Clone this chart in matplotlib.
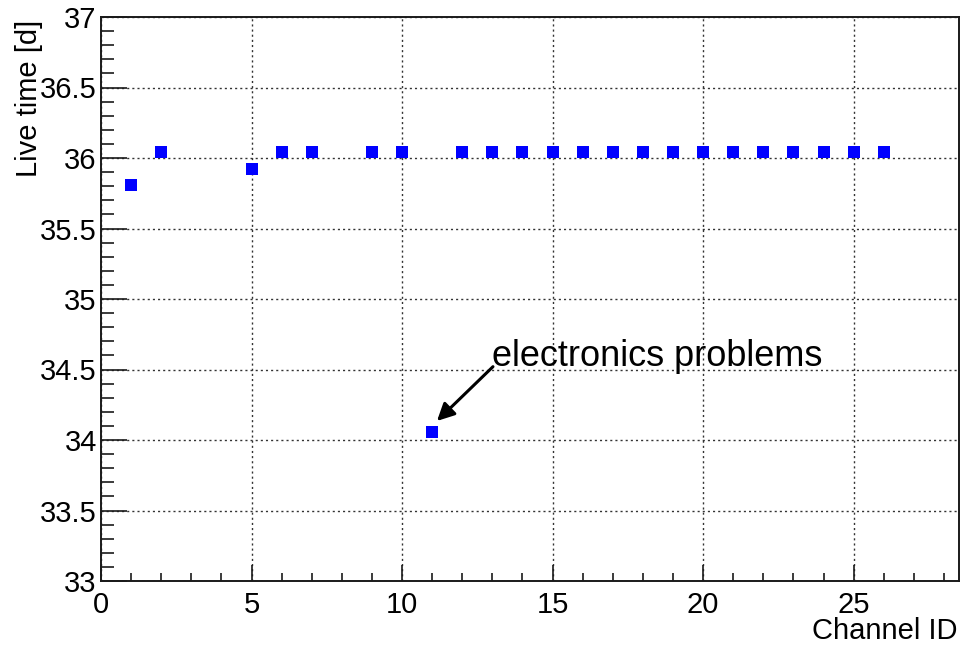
import matplotlib
matplotlib.use("Agg")
import matplotlib.pyplot as plt
from matplotlib.ticker import MultipleLocator, FuncFormatter

plt.rcParams['font.family'] = ['Liberation Sans', 'DejaVu Sans']

# Live time per detector channel
channels = [1, 2, 5, 6, 7, 9, 10, 11, 12, 13, 14, 15, 16, 17, 18, 19, 20,
            21, 22, 23, 24, 25, 26]
live_time = [35.81, 36.04, 35.925, 36.04, 36.04, 36.04, 36.04, 34.06, 36.04,
             36.04, 36.04, 36.04, 36.04, 36.04, 36.04, 36.04, 36.04, 36.04,
             36.04, 36.04, 36.04, 36.04, 36.04]

x_range = (0, 28.5)
y_range = (33, 37)

W, H = 967, 645
fig = plt.figure(figsize=(W / 100, H / 100), dpi=100)
ax = fig.add_axes([101 / W, 1 - 581 / H, (959 - 101) / W, (581 - 17) / H])

ax.plot(channels, live_time, linestyle='none', marker='s', markersize=8.6,
        markeredgewidth=0, color='#0000ff', zorder=5)

ax.set_xlim(*x_range)
ax.set_ylim(*y_range)

ax.xaxis.set_major_locator(MultipleLocator(5))
ax.xaxis.set_minor_locator(MultipleLocator(1))
ax.yaxis.set_major_locator(MultipleLocator(0.5))
ax.yaxis.set_minor_locator(MultipleLocator(0.1))
ax.yaxis.set_major_formatter(FuncFormatter(lambda v, p: f"{v:g}"))
ax.xaxis.set_major_formatter(FuncFormatter(lambda v, p: f"{v:g}"))

frame_col = '#1a1a1a'
for s in ax.spines.values():
    s.set_linewidth(1.4)
    s.set_color(frame_col)

ax.tick_params(axis='both', which='both', direction='in', top=False, right=False,
               color=frame_col, labelsize=21, labelcolor='black')
ax.tick_params(axis='x', which='major', length=11.5, width=1.2, pad=7)
ax.tick_params(axis='x', which='minor', length=5.5, width=1.2)
ax.tick_params(axis='y', which='major', length=19, width=1.2, pad=3)
ax.tick_params(axis='y', which='minor', length=9.5, width=1.2)

ax.grid(True, which='major', color='#333333', linewidth=1.0,
        linestyle=(0, (1.5, 2.2)))
ax.set_axisbelow(True)

# Axis titles, right-aligned at the axis ends
fig.text(37 / W, 1 - 20 / H, 'Live time [d]', rotation=90, rotation_mode='anchor',
         ha='right', va='baseline', fontsize=21)
fig.text(957 / W, 1 - 639 / H, 'Channel ID', ha='right', va='baseline', fontsize=21)

# Note on the outlier channel
ax.annotate('', xy=(11.16, 34.135), xytext=(13.02, 34.52),
            arrowprops=dict(arrowstyle='-|>', color='black', lw=2.2,
                            mutation_scale=26, shrinkA=0, shrinkB=0))
ax.text(12.99, 34.525, 'electronics problems', fontsize=26, ha='left',
        va='baseline', color='black', zorder=6)

fig.savefig('out.png', dpi=100)
